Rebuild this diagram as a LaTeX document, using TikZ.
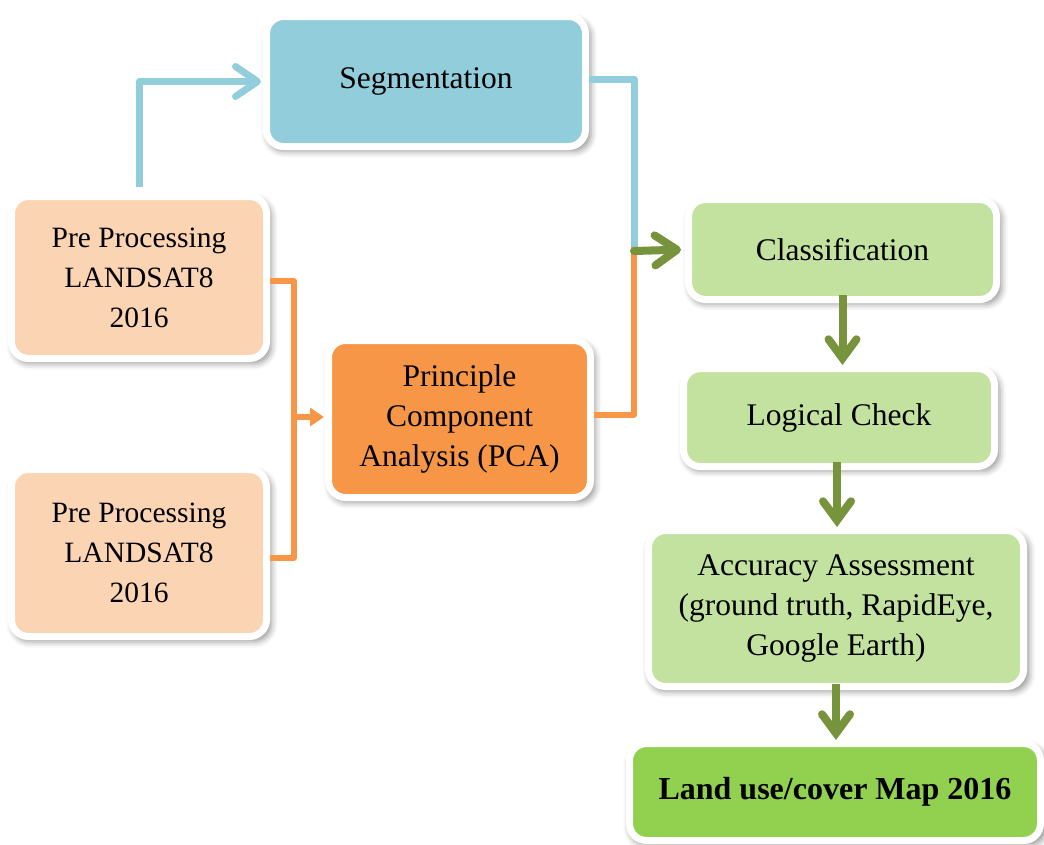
\documentclass[tikz,border=0pt]{standalone}
\usepackage{fontspec}
\setmainfont{Liberation Serif}
\usetikzlibrary{arrows.meta,shadows.blur}

\definecolor{segblue}{HTML}{92CDDC}
\definecolor{peach}{HTML}{FBD4B4}
\definecolor{pcaorange}{HTML}{F79646}
\definecolor{lightgreen}{HTML}{C3E2A0}
\definecolor{mapgreen}{HTML}{92D050}
\definecolor{olive}{HTML}{77933C}

\tikzset{
  box/.style={rectangle, rounded corners=17pt, draw=white, line width=7pt,
    align=center, inner sep=0pt, text=black,
    font=\fontsize{31.5}{40}\selectfont,
    blur shadow={shadow xshift=3pt, shadow yshift=-4pt, shadow blur radius=6pt,
      shadow opacity=40, shadow scale=1.015}},
  bluelink/.style={draw=segblue, line width=7pt, line join=round},
  orangelink/.style={draw=pcaorange, line width=5.5pt, line join=round},
  greenlink/.style={draw=olive, line width=8pt, line cap=round},
  chevron/.style={-{Straight Barb[length=22pt, width=30pt, line cap=round, line join=round]}},
  greendown/.style={greenlink, line cap=butt,
    -{Straight Barb[length=19pt, width=28pt, line cap=round, line join=miter]}},
}

\begin{document}
\begin{tikzpicture}[x=1pt, y=-1pt]
  \useasboundingbox (0,0) rectangle (1044,844);

  % process boxes
  \node[box, fill=segblue, minimum width=319pt, minimum height=130pt]
    (seg) at (426,81.5) {Segmentation};
  \node[box, fill=peach, minimum width=255pt, minimum height=162pt,
    font=\fontsize{29.5}{40}\selectfont]
    (pp1) at (139,277.5) {Pre Processing\\LANDSAT8\\2016};
  \node[box, fill=peach, minimum width=255pt, minimum height=167pt,
    font=\fontsize{29.5}{40}\selectfont]
    (pp2) at (139,553) {Pre Processing\\LANDSAT8\\2016};
  \node[box, fill=pcaorange, minimum width=262pt, minimum height=157pt]
    (pca) at (459.5,419) {Principle\\Component\\Analysis (PCA)};
  \node[box, fill=lightgreen, minimum width=308pt, minimum height=100pt]
    (cls) at (842.5,249.5) {Classification};
  \node[box, fill=lightgreen, minimum width=311pt, minimum height=98pt]
    (lc) at (839,417.5) {Logical Check};
  \node[box, fill=lightgreen, minimum width=375pt, minimum height=156pt]
    (acc) at (836,608.5) {Accuracy Assessment\\(ground truth, RapidEye,\\Google Earth)};
  \node[box, fill=mapgreen, minimum width=411pt, minimum height=97pt,
    font=\fontsize{32}{40}\selectfont\bfseries]
    (map) at (835,792) {Land use/cover Map 2016};

  % junction points of the connectors
  \coordinate (merge) at (634,251);
  \coordinate (fork) at (294,417);

  % pre-processing to segmentation
  \draw[bluelink, chevron, shorten >=2pt] (pp1.north) ++(0,-6) |- (seg.west);

  % pre-processing bracket into PCA
  \draw[orangelink] (pp1.east) ++(0,3.5) -| (fork);
  \draw[orangelink] (pp2.east) ++(0,5) -| (fork);
  \draw[orangelink, -{Triangle[length=14pt, width=18pt]}, shorten >=1pt]
    (fork) -- (fork -| pca.west);

  % segmentation and PCA merging into classification
  \draw[bluelink] (seg.east) ++(0,-2.5) -| (merge);
  \draw[orangelink] (pca.east) ++(0,-4) -| ([yshift=4pt]merge);
  \draw[greenlink, chevron, shorten >=4pt] (merge) -- (cls.west);

  % vertical flow on the right
  \draw[greendown] ([yshift=8pt]cls.south) -- (cls.south |- lc.north);
  \draw[greendown] ([xshift=-2pt,yshift=8pt]lc.south) -- ([xshift=-2pt]lc.south |- acc.north);
  \draw[greendown] ([yshift=6pt]acc.south) -- (acc.south |- map.north);
\end{tikzpicture}
\end{document}
